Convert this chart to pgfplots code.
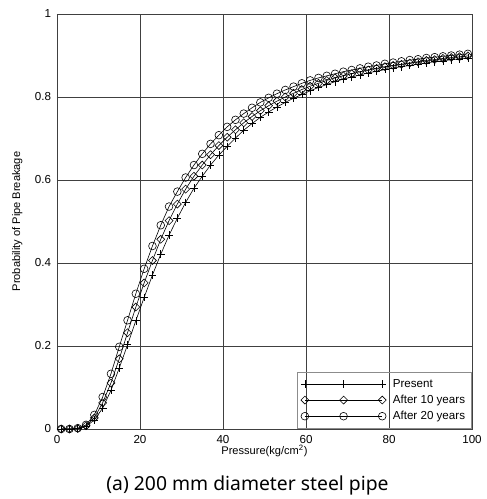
\documentclass[border=0pt]{standalone}
\usepackage{fontspec}
\setmainfont{Liberation Sans}
\newfontfamily\capfont{Noto Sans}
\usepackage{pgfplots}
\usepackage{pgfplotstable}
\pgfplotsset{compat=1.18}

% Probability of pipe breakage vs. pressure (200 mm steel pipe)
\pgfplotstableread{
x   present ten   twenty
1   0.000   0.000 0.000
3   0.000   0.000 0.000
5   0.001   0.001 0.002
7   0.006   0.008 0.010
9   0.022   0.027 0.034
11  0.050   0.063 0.077
13  0.093   0.111 0.133
15  0.147   0.169 0.198
17  0.203   0.232 0.262
19  0.261   0.294 0.326
21  0.317   0.352 0.386
23  0.371   0.406 0.441
25  0.421   0.457 0.491
27  0.467   0.502 0.536
29  0.508   0.542 0.572
31  0.546   0.578 0.606
33  0.580   0.609 0.636
35  0.609   0.636 0.663
37  0.636   0.661 0.687
39  0.660   0.683 0.708
41  0.681   0.703 0.728
43  0.701   0.721 0.745
45  0.720   0.738 0.760
47  0.736   0.753 0.774
49  0.751   0.767 0.787
51  0.764   0.779 0.798
53  0.776   0.790 0.808
55  0.787   0.800 0.817
57  0.797   0.809 0.825
59  0.806   0.818 0.833
61  0.815   0.826 0.840
63  0.823   0.833 0.846
65  0.830   0.840 0.851
67  0.837   0.846 0.856
69  0.843   0.851 0.861
71  0.848   0.856 0.865
73  0.853   0.861 0.869
75  0.858   0.865 0.873
77  0.862   0.869 0.876
79  0.866   0.873 0.880
81  0.870   0.876 0.883
83  0.873   0.879 0.886
85  0.876   0.882 0.889
87  0.879   0.885 0.891
89  0.882   0.888 0.894
91  0.885   0.890 0.896
93  0.887   0.893 0.898
95  0.890   0.895 0.900
97  0.892   0.897 0.902
99  0.894   0.899 0.904
}\breakage

\begin{document}
\begin{tikzpicture}
\begin{axis}[
  name=ax,
  scale only axis,
  width=311.25pt, height=311.25pt,
  xmin=0, xmax=100, ymin=0, ymax=1,
  xtick={0,20,40,60,80,100},
  ytick={0,0.2,0.4,0.6,0.8,1},
  yticklabels={0,0.2,0.4,0.6,0.8,1},
  major tick length=0pt,
  grid=major,
  major grid style={draw=black!75, line width=0.6pt},
  axis line style={draw=black!75, line width=0.6pt},
  /pgf/number format/assume math mode=true,
  tick label style={font=\fontsize{8.7}{10}\selectfont},
  xticklabel style={yshift=-1pt},
  yticklabel style={xshift=-1pt},
  label style={font=\fontsize{8.3}{9}\selectfont},
  xlabel={Pressure(kg/cm\textsuperscript{2})},
  ylabel={Probability of Pipe Breakage},
  xlabel style={yshift=5.5pt},
  ylabel style={yshift=2.5pt},
  legend style={at={(1,0)}, anchor=south east, draw=black!45, fill=none,
    font=\fontsize{8.7}{10}\selectfont, row sep=0.3pt,
    inner xsep=3pt, inner ysep=3.5pt,
    /tikz/every odd column/.style={}},
  legend cell align=left,
  legend image code/.code={%
    \draw[mark repeat=1, mark phase=1, #1] plot coordinates {(0pt,0pt) (29pt,0pt) (58pt,0pt)};},
  every axis plot/.append style={black, line width=0.45pt, mark size=2.9pt,
    mark options={solid, fill=none, line width=0.45pt}},
]
\addplot[mark=+] table[x=x, y=present] {\breakage};
\addlegendentry{\hspace{3pt}Present}
\addplot[mark=square, mark size=2.1pt, mark options={rotate=45}] table[x=x, y=ten] {\breakage};
\addlegendentry{\hspace{3pt}After 10 years}
\addplot[mark=o] table[x=x, y=twenty] {\breakage};
\addlegendentry{\hspace{3pt}After 20 years}
\end{axis}
\node[font=\capfont\fontsize{14.5}{16}\selectfont, anchor=base]
  at ([xshift=142.9pt, yshift=-45.75pt]ax.south west) {(a) 200 mm diameter steel pipe};
\pgfresetboundingbox
\path ([xshift=-42.75pt, yshift=-52.5pt]ax.south west) rectangle ([xshift=10.5pt, yshift=10.5pt]ax.north east);
\end{tikzpicture}
\end{document}
